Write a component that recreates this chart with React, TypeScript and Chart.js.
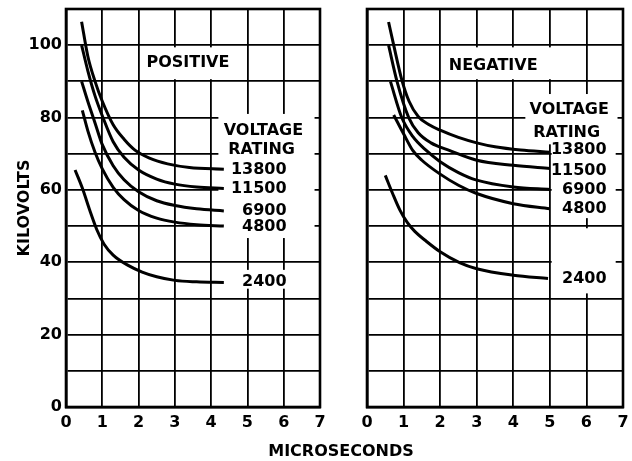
import React, { useEffect, useRef } from "react";
import { Chart, registerables } from "chart.js";

Chart.register(...registerables);

// ---- Data ----
const xTickValues = [0, 1, 2, 3, 4, 5, 6, 7];
const yTickLabels = [0, 20, 40, 60, 80, 100];
const ratings = ["13800", "11500", "6900", "4800", "2400"];

// POSITIVE panel curves: [microseconds, kilovolts]
const pos13800 = [[0.43, 106.5], [0.6, 97], [0.8, 90], [1.0, 84.5], [1.3, 78], [1.6, 74], [1.9, 71], [2.3, 68.8], [2.8, 67.2], [3.4, 66.2], [4.35, 65.7]];
const pos11500 = [[0.43, 100], [0.6, 93], [0.8, 86], [1.0, 80.5], [1.3, 73.3], [1.6, 69], [2.0, 65.5], [2.5, 63], [3.0, 61.6], [3.6, 60.8], [4.35, 60.4]];
const pos6900 = [[0.43, 90], [0.6, 84.5], [0.8, 78.5], [1.0, 72.5], [1.3, 66.7], [1.6, 62.8], [2.0, 59.5], [2.5, 57], [3.0, 55.7], [3.6, 54.8], [4.35, 54.2]];
const pos4800 = [[0.45, 82], [0.6, 76.4], [0.8, 70.4], [1.0, 65.8], [1.3, 60.7], [1.6, 57.3], [2.0, 54.3], [2.5, 52.2], [3.0, 51.1], [3.6, 50.4], [4.35, 50]];
const pos2400 = [[0.25, 65.5], [0.45, 60.5], [0.65, 54.5], [0.85, 49], [1.05, 45], [1.3, 42], [1.7, 39.2], [2.1, 37.3], [2.5, 36], [3.0, 35], [3.6, 34.6], [4.35, 34.4]];

// NEGATIVE panel curves
const neg13800 = [[0.59, 106.4], [0.73, 100], [0.95, 90.5], [1.15, 84.5], [1.4, 80.3], [1.7, 78], [2.0, 76.5], [2.5, 74.5], [3.0, 73], [3.5, 71.9], [4.2, 71], [5.0, 70.4]];
const neg11500 = [[0.59, 100], [0.82, 90], [1.14, 80], [1.4, 75.8], [1.75, 73], [2.25, 70.9], [3.0, 68.2], [4.0, 66.8], [5.0, 65.9]];
const neg6900 = [[0.64, 90], [0.95, 80], [1.25, 74.8], [1.62, 70.9], [2.0, 67.8], [2.5, 64.8], [3.0, 62.7], [4.0, 60.8], [5.0, 60.1]];
const neg4800 = [[0.73, 80.7], [1.0, 75.5], [1.25, 70.9], [1.5, 68.2], [1.98, 64.5], [2.5, 61.3], [3.0, 59], [4.0, 56.2], [5.0, 54.8]];
const neg2400 = [[0.5, 64], [0.7, 59], [0.9, 54.4], [1.1, 51], [1.3, 48.6], [1.62, 45.8], [2.0, 42.9], [2.53, 39.9], [3.0, 38.2], [4.0, 36.4], [4.95, 35.5]];

const posSeries = [pos13800, pos11500, pos6900, pos4800, pos2400];
const negSeries = [neg13800, neg11500, neg6900, neg4800, neg2400];

// ---- Styling / annotation layout ----
const FONT_FAMILY = '"DejaVu Sans", sans-serif';

type Box = [number, number, number, number];
type Txt = { text: string; x: number; y: number; align: CanvasTextAlign };

const posBoxes: Box[] = [
  [2.06, 4.94, 90.6, 99.4],
  [4.2, 6.85, 46.7, 81],
  [4.4, 6.85, 32.7, 37.9],
];
const negBoxes: Box[] = [
  [2.06, 5.5, 90.6, 99.4],
  [4.33, 6.85, 72.6, 86.5],
  [5.05, 6.8, 52.2, 72.6],
  [5.05, 6.8, 31.4, 49.4],
];
const posLabelY = [65.6, 60.4, 54.1, 49.7, 34.5];
const negLabelY = [71, 65.4, 59.9, 54.9, 35.5];

const posTexts: Txt[] = [
  { text: "POSITIVE", x: 3.36, y: 95, align: "center" },
  { text: "VOLTAGE", x: 5.44, y: 76.2, align: "center" },
  { text: "RATING", x: 5.39, y: 71, align: "center" },
  ...ratings.map((r, i) => ({ text: r, x: 6.08, y: posLabelY[i], align: "right" as CanvasTextAlign })),
];
const negTexts: Txt[] = [
  { text: "NEGATIVE", x: 3.45, y: 94.2, align: "center" },
  { text: "VOLTAGE", x: 5.53, y: 82, align: "center" },
  { text: "RATING", x: 5.46, y: 75.9, align: "center" },
  ...ratings.map((r, i) => ({ text: r, x: 6.55, y: negLabelY[i], align: "right" as CanvasTextAlign })),
];

function makePanelPlugin(boxes: Box[], texts: Txt[]) {
  return {
    id: "panelLabels",
    beforeDatasetsDraw(chart: any) {
      const { ctx, chartArea, scales } = chart;
      const xs = scales.x;
      const ys = scales.y;
      ctx.save();
      ctx.fillStyle = "#ffffff";
      for (const b of boxes) {
        const x0 = xs.getPixelForValue(b[0]);
        const x1 = xs.getPixelForValue(b[1]);
        const y0 = ys.getPixelForValue(b[3]);
        const y1 = ys.getPixelForValue(b[2]);
        ctx.fillRect(x0, y0, x1 - x0, y1 - y0);
      }
      ctx.strokeStyle = "#000";
      ctx.lineWidth = 2.6;
      ctx.strokeRect(chartArea.left, chartArea.top, chartArea.right - chartArea.left, chartArea.bottom - chartArea.top);
      ctx.fillStyle = "#000";
      ctx.font = `bold 16px ${FONT_FAMILY}`;
      ctx.textBaseline = "middle";
      for (const t of texts) {
        ctx.textAlign = t.align;
        ctx.fillText(t.text, xs.getPixelForValue(t.x), ys.getPixelForValue(t.y));
      }
      ctx.restore();
    },
  };
}

function buildConfig(series: number[][][], showY: boolean, padding: any, boxes: Box[], texts: Txt[]): any {
  const tickFont = { family: FONT_FAMILY, size: 16, weight: "bold" as const };
  return {
    type: "line",
    data: {
      datasets: series.map((s, i) => ({
        label: ratings[i],
        data: s.map(([x, y]) => ({ x, y })),
        borderColor: "#000",
        borderWidth: 3,
        pointRadius: 0,
        fill: false,
        cubicInterpolationMode: "monotone",
      })),
    },
    options: {
      responsive: false,
      animation: false,
      events: [],
      layout: { padding },
      plugins: { legend: { display: false }, tooltip: { enabled: false } },
      scales: {
        x: {
          type: "linear",
          min: 0,
          max: 7,
          afterBuildTicks: (s: any) => {
            s.ticks = xTickValues.map((v) => ({ value: v }));
          },
          ticks: { color: "#000", font: tickFont, padding: 6, autoSkip: false, maxRotation: 0, callback: (v: any) => String(v) },
          grid: { color: "#000", lineWidth: 1.8, drawTicks: false },
          border: { color: "#000", width: 2.6 },
          afterFit: (s: any) => {
            s.height = 54;
            s.paddingLeft = 0;
            s.paddingRight = 0;
          },
        },
        y: {
          type: "linear",
          min: 0,
          max: 110,
          ticks: {
            display: showY,
            stepSize: 10,
            color: "#000",
            font: tickFont,
            padding: 4,
            callback: (v: any) => (yTickLabels.includes(Number(v)) ? String(v) : ""),
          },
          grid: { color: "#000", lineWidth: 1.8, drawTicks: false },
          border: { color: "#000", width: 2.6 },
          title: showY
            ? { display: true, text: "KILOVOLTS", color: "#000", font: { family: FONT_FAMILY, size: 16, weight: "bold" }, padding: { top: 15, bottom: 0 } }
            : { display: false },
          afterFit: (s: any) => {
            s.width = showY ? 66 : 0;
            s.paddingTop = 0;
            s.paddingBottom = 0;
          },
        },
      },
    },
    plugins: [makePanelPlugin(boxes, texts)],
  };
}

export default function App() {
  const leftRef = useRef<HTMLCanvasElement | null>(null);
  const rightRef = useRef<HTMLCanvasElement | null>(null);

  useEffect(() => {
    const left = new Chart(leftRef.current as HTMLCanvasElement, buildConfig(posSeries, true, { top: 9, right: 10, left: 0, bottom: 0 }, posBoxes, posTexts));
    const right = new Chart(rightRef.current as HTMLCanvasElement, buildConfig(negSeries, false, { top: 9, right: 9, left: 37, bottom: 0 }, negBoxes, negTexts));
    return () => {
      left.destroy();
      right.destroy();
    };
  }, []);

  return (
    <div style={{ position: "absolute", left: 0, top: 0, width: 632, height: 461, background: "#fff" }}>
      <canvas ref={leftRef} width={330} height={461} style={{ position: "absolute", left: 0, top: 0, width: 330, height: 461 }} />
      <canvas ref={rightRef} width={302} height={461} style={{ position: "absolute", left: 330, top: 0, width: 302, height: 461 }} />
      <div
        style={{
          position: "absolute",
          left: 0,
          width: 682,
          top: 441,
          textAlign: "center",
          fontFamily: FONT_FAMILY,
          fontWeight: "bold",
          fontSize: 16,
          lineHeight: "20px",
          color: "#000",
        }}
      >
        MICROSECONDS
      </div>
    </div>
  );
}
